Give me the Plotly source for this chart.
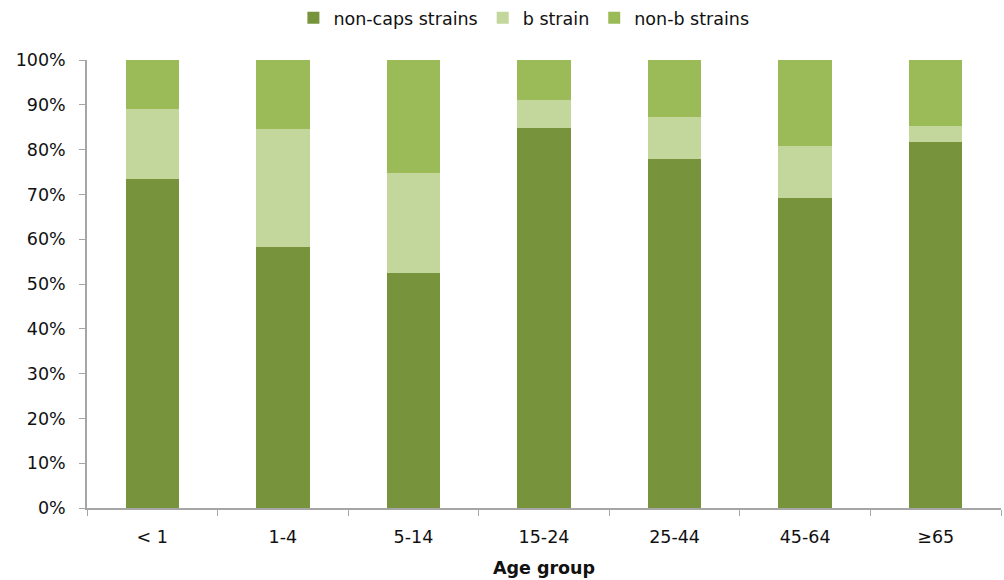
import plotly.graph_objects as go

# Age groups and share of isolates by capsule type (fractions of 1)
age_groups = ["< 1", "1-4", "5-14", "15-24", "25-44", "45-64", "≥65"]
non_caps = [0.734, 0.582, 0.525, 0.848, 0.780, 0.691, 0.816]
b_strain = [0.156, 0.265, 0.223, 0.063, 0.093, 0.116, 0.037]
non_b = [0.110, 0.153, 0.252, 0.089, 0.127, 0.193, 0.147]

series = [
    ("non-caps strains", non_caps, "#77933C"),
    ("b strain", b_strain, "#C3D69B"),
    ("non-b strains", non_b, "#9BBB59"),
]

font_family = "DejaVu Sans"
axis_grey = "#A6A6A6"
font_size = 17.5

fig = go.Figure()
for name, values, color in series:
    fig.add_trace(go.Bar(
        x=age_groups,
        y=values,
        name=name,
        marker=dict(color=color, line=dict(width=0)),
        width=0.41,
    ))

fig.update_layout(
    barmode="stack",
    width=1004,
    height=580,
    margin=dict(l=87, r=3, t=60, b=72, autoexpand=False),
    paper_bgcolor="white",
    plot_bgcolor="white",
    font=dict(family=font_family, size=font_size, color="#111111"),
    showlegend=True,
    legend=dict(
        orientation="h",
        x=0.478, xanchor="center",
        y=1.094, yanchor="middle",
        font=dict(size=font_size),
        itemwidth=30,
        traceorder="normal",
        bgcolor="rgba(0,0,0,0)",
    ),
)

fig.update_xaxes(
    automargin=False,
    showgrid=False,
    showline=True,
    linecolor=axis_grey,
    linewidth=1.5,
    ticks="outside",
    tickson="boundaries",
    ticklen=6,
    tickcolor=axis_grey,
    tickfont=dict(size=font_size),
    ticklabelstandoff=12,
    title=dict(text="<b>Age group</b>", font=dict(size=font_size), standoff=16),
)

fig.update_yaxes(
    automargin=False,
    range=[0, 1],
    dtick=0.1,
    tickformat=".0%",
    showgrid=False,
    zeroline=False,
    showline=True,
    linecolor=axis_grey,
    linewidth=1.5,
    ticks="outside",
    ticklen=6,
    tickcolor=axis_grey,
    tickfont=dict(size=font_size),
    ticklabelstandoff=10,
)

fig.write_html("out.html")
